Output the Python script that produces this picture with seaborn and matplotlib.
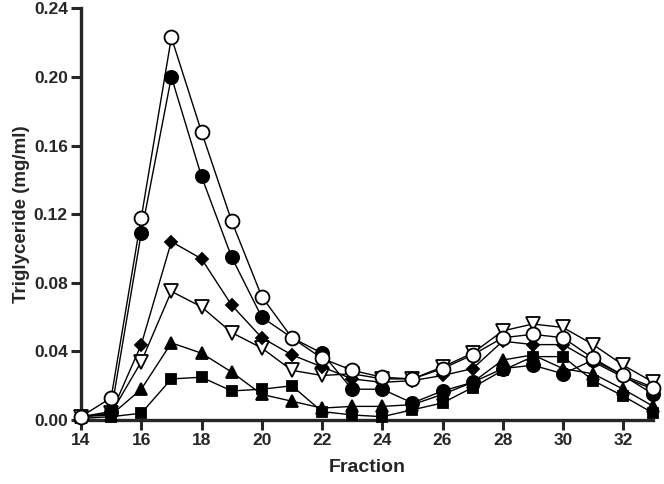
import numpy as np
import pandas as pd
import matplotlib
matplotlib.use("Agg")
import matplotlib.pyplot as plt
import seaborn as sns

fraction = list(range(14, 34))

open_circle = [0.002, 0.013, 0.118, 0.223, 0.168, 0.116, 0.072, 0.048, 0.036, 0.029,
               0.025, 0.024, 0.030, 0.038, 0.048, 0.050, 0.048, 0.036, 0.026, 0.019]
filled_circle = [0.002, 0.005, 0.109, 0.200, 0.142, 0.095, 0.060, 0.048, 0.039, 0.018,
                 0.018, 0.010, 0.017, 0.022, 0.030, 0.032, 0.027, 0.035, 0.026, 0.015]
diamond = [0.002, 0.004, 0.044, 0.104, 0.094, 0.067, 0.048, 0.038, 0.031, 0.024,
           0.022, 0.023, 0.026, 0.030, 0.046, 0.044, 0.044, 0.034, 0.025, 0.018]
open_triangle = [0.002, 0.004, 0.034, 0.075, 0.066, 0.051, 0.042, 0.029, 0.026, 0.027,
                 0.024, 0.024, 0.031, 0.039, 0.052, 0.056, 0.054, 0.044, 0.032, 0.022]
filled_triangle = [0.002, 0.003, 0.018, 0.045, 0.039, 0.028, 0.015, 0.011, 0.007, 0.008,
                   0.008, 0.009, 0.015, 0.022, 0.035, 0.038, 0.030, 0.027, 0.018, 0.008]
square = [0.001, 0.002, 0.004, 0.024, 0.025, 0.017, 0.018, 0.020, 0.005, 0.003,
          0.002, 0.006, 0.010, 0.019, 0.029, 0.037, 0.037, 0.023, 0.014, 0.004]

x_ticks = [14, 16, 18, 20, 22, 24, 26, 28, 30, 32]
y_ticks = [0.00, 0.04, 0.08, 0.12, 0.16, 0.20, 0.24]

sns.set_style("ticks")
plt.rcParams["font.family"] = ["Liberation Sans", "DejaVu Sans"]
plt.rcParams["font.weight"] = "bold"

fig = plt.figure(figsize=(6.64, 4.84), dpi=100)
ax = fig.add_axes([0.122, 0.132, 0.862, 0.851])

series = [
    (square, "s", "black", 7.5),
    (filled_triangle, "^", "black", 8.5),
    (open_triangle, "v", "white", 9.5),
    (diamond, "D", "black", 6),
    (filled_circle, "o", "black", 9.5),
    (open_circle, "o", "white", 10),
]
for vals, mk, fc, ms in series:
    sns.lineplot(x=fraction, y=vals, ax=ax, color="black", lw=1.0, marker=mk,
                 markersize=ms, markerfacecolor=fc, markeredgecolor="black",
                 markeredgewidth=1.3, clip_on=False, zorder=3)

ax.set_xlim(14, 33)
ax.set_ylim(0, 0.24)
ax.set_xticks(x_ticks)
ax.set_yticks(y_ticks)
ax.set_yticklabels([f"{v:.2f}" for v in y_ticks])
ax.tick_params(axis="both", width=2.2, length=7.5, labelsize=12.5, direction="out", pad=2)
for lab in ax.get_xticklabels() + ax.get_yticklabels():
    lab.set_fontweight("bold")
for side in ["left", "bottom"]:
    ax.spines[side].set_linewidth(2.4)
sns.despine(ax=ax)

ax.set_xlabel("Fraction", fontsize=14, fontweight="bold", labelpad=8)
ax.set_ylabel("Triglyceride (mg/ml)", fontsize=13.5, fontweight="bold", labelpad=3)

fig.savefig("out.png", dpi=100)
